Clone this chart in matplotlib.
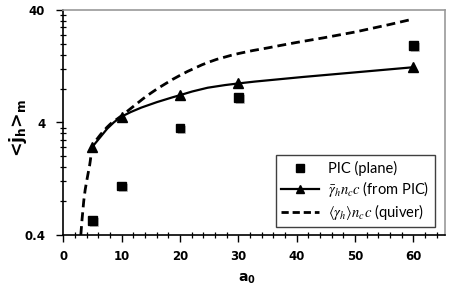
import numpy as np
import matplotlib
matplotlib.use("Agg")
import matplotlib.pyplot as plt
from matplotlib.path import Path
from matplotlib.patches import PathPatch
from matplotlib.lines import Line2D
from matplotlib.ticker import FixedLocator, NullFormatter
import matplotlib.patheffects as pe

# ---- data ----
pic_a0 = [5, 10, 20, 30, 60]
pic_j = [0.54, 1.09, 3.57, 6.7, 19.3]

gam_a0 = [5, 10, 20, 30, 60]
gam_j = [2.44, 4.5, 7.0, 8.9, 12.4]

quiv_a0 = [3.0, 3.5, 4.0, 4.5, 5, 6, 8, 10, 15, 20, 25, 30, 35, 40, 50, 60]
quiv_j = [0.4, 0.8, 1.2, 1.65, 2.4, 2.95, 3.85, 4.6, 7.3, 10.5, 13.8, 16.4, 18.4, 20.6, 25.5, 33.3]

x_ticks = [0, 10, 20, 30, 40, 50, 60]
y_ticks = [0.4, 4, 40]
y_ticklabels = ["0.4", "4", "40"]

plt.rcParams['mathtext.fontset'] = 'stix'

fig = plt.figure(figsize=(4.63, 2.92), dpi=100)
ax = fig.add_axes([63.3 / 463, 1 - 235 / 292, (445 - 63.3) / 463, 225 / 292])
ax.set_yscale('log')
ax.set_xlim(0, 65.4)
ax.set_ylim(0.4, 40)


def smooth_patch(xs, ys, **kw):
    """Excel-like smoothed line (Catmull-Rom Bezier) in (x, log y) space."""
    P = np.column_stack([np.asarray(xs, float), np.log10(np.asarray(ys, float))])
    n = len(P)
    verts = [P[0]]
    codes = [Path.MOVETO]
    for i in range(n - 1):
        p0 = P[i - 1] if i > 0 else P[i]
        p1 = P[i]
        p2 = P[i + 1]
        p3 = P[i + 2] if i + 2 < n else P[i + 1]
        c1 = p1 + (p2 - p0) / 6.0
        c2 = p2 - (p3 - p1) / 6.0
        verts += [c1, c2, p2]
        codes += [Path.CURVE4] * 3
    V = np.array(verts)
    V[:, 1] = 10 ** V[:, 1]
    patch = PathPatch(Path(V, codes), fill=False, **kw)
    ax.add_patch(patch)
    return patch


smooth_patch(quiv_a0, quiv_j, edgecolor='black', linewidth=2.0,
             linestyle=(0, (3.2, 1.8)), capstyle='butt', zorder=2)
smooth_patch(gam_a0, gam_j, edgecolor='black', linewidth=1.6, zorder=3)

shadow = [pe.SimplePatchShadow(offset=(1.5, -1.5), shadow_rgbFace='0.45', alpha=0.45),
          pe.Normal()]
ax.plot(pic_a0, pic_j, ls='none', marker='s', markersize=6.2, color='black',
        zorder=4, path_effects=shadow)
ax.plot(gam_a0, gam_j, ls='none', marker='^', markersize=6.8, color='black',
        zorder=4)

# ticks
ax.set_xticks(x_ticks)
ax.xaxis.set_minor_locator(FixedLocator(np.arange(0, 66, 2)))
ax.yaxis.set_major_locator(FixedLocator(y_ticks))
ax.set_yticklabels(y_ticklabels)
ax.yaxis.set_minor_locator(FixedLocator([b * k for b in (0.4, 4) for k in range(2, 10)]))
ax.yaxis.set_minor_formatter(NullFormatter())
ax.tick_params(which='major', direction='out', length=5, width=1.0, pad=6)
ax.tick_params(which='minor', direction='inout', length=5, width=0.9)
ax.tick_params(axis='y', which='major', pad=8)
for lab in ax.get_xticklabels() + ax.get_yticklabels():
    lab.set_fontweight('bold')
    lab.set_fontsize(8.5)
    lab.set_family('DejaVu Sans')

for s in ('left', 'bottom'):
    ax.spines[s].set_color('black')
    ax.spines[s].set_linewidth(1.2)
for s in ('top', 'right'):
    ax.spines[s].set_color('#9a9a9a')
    ax.spines[s].set_linewidth(1.2)

ax.set_xlabel(r'a$_\mathbf{0}$', fontsize=10, fontweight='bold', math_fontfamily='dejavusans')
ax.xaxis.set_label_coords((247 - 63.3) / 381.7, -(272 - 235) / 225)
ax.set_ylabel(r'<j$_\mathbf{h}$>$_\mathbf{m}$', fontsize=12.5, fontweight='bold',
              math_fontfamily='dejavusans')
ax.yaxis.set_label_coords(-(63.3 - 29) / 381.7, (235 - 128) / 225)

handles = [
    Line2D([], [], ls='none', marker='s', markersize=6.0, color='black'),
    Line2D([], [], ls='-', lw=1.6, marker='^', markersize=6, color='black'),
    Line2D([], [], ls=(0, (2.6, 1.4)), lw=2.0, color='black'),
]
labels = ['PIC (plane)',
          r'$\bar{\gamma}_h n_c c$ (from PIC)',
          r'$\langle\gamma_h\rangle n_c c$ (quiver)']
leg = ax.legend(handles, labels, loc='upper right', bbox_to_anchor=(0.974, 0.356),
                borderaxespad=0, fancybox=False, framealpha=1, edgecolor='#404040',
                prop={'family': 'Lato', 'size': 10.5}, handlelength=2.6,
                handletextpad=0.6, labelspacing=0.2, borderpad=0.4)
leg.get_frame().set_linewidth(1.0)

fig.savefig('out.png', dpi=100)
